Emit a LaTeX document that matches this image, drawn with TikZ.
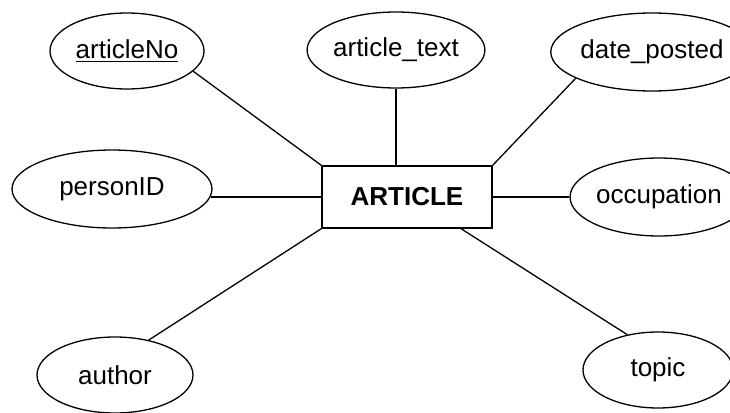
\documentclass[tikz,border=0pt]{standalone}
\usepackage{fontspec}
\setmainfont{Liberation Sans}
\usetikzlibrary{shapes.geometric}
\begin{document}
\begin{tikzpicture}[x=0.5pt,y=-0.5pt,line width=0.65pt,
  font=\fontsize{13}{15}\selectfont,
  attr/.style={draw, ellipse, inner sep=0pt},
  entity/.style={draw, rectangle, minimum width=85pt, minimum height=31pt, font=\fontsize{13}{15}\selectfont\bfseries}]
\useasboundingbox (0,0) rectangle (730,413);

\node (article) [entity] at (407,197) {ARTICLE};

\node (articleNo) [attr, minimum width=77pt, minimum height=38pt] at (127,51) {\underline{articleNo}};
\node (text) [attr, minimum width=78pt, minimum height=38pt] at (396,50) {article\_text};
\node (posted) [attr, minimum width=80pt, minimum height=39pt] at (652,52) {date\_posted};
\node (personID) [attr, minimum width=100pt, minimum height=39pt] at (112,189) {personID};
\node (occupation) [attr, minimum width=73pt, minimum height=39pt] at (659,197) {occupation};
\node (author) [attr, minimum width=78pt, minimum height=38pt] at (115,375) {author};
\node (topic) [attr, minimum width=75pt, minimum height=38pt] at (658,370) {topic};

\draw (articleNo.-17) -- (article.north west);
\draw (text) -- (text |- article.north);
\draw (posted.-161) -- (article.north east);
\draw ([xshift=-1pt]article.west -| personID.east) -- (article.west);
\draw (occupation) -- (article);
\draw (author.46) -- (article.south west);
\draw (topic.131) -- ([xshift=27pt]article.south);
\end{tikzpicture}
\end{document}
